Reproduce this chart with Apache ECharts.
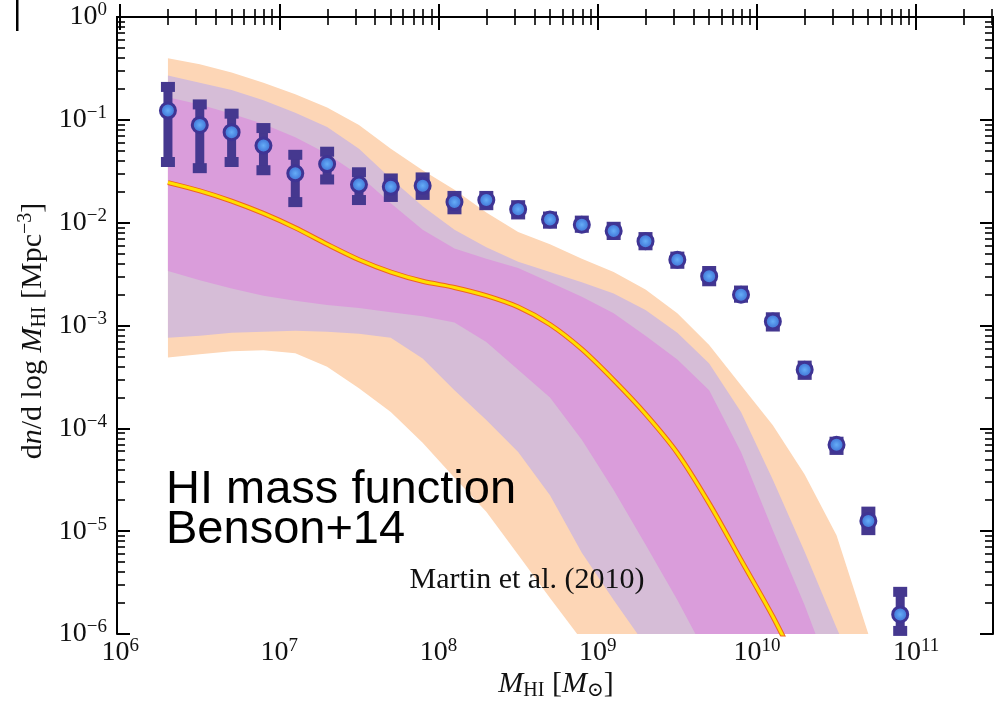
<!DOCTYPE html>
<html>
<head>
<meta charset="utf-8">
<script src="https://cdn.jsdelivr.net/npm/echarts@6/dist/echarts.min.js"></script>
<style>
  html, body { margin: 0; padding: 0; background: #ffffff; }
  #chart { width: 1002px; height: 701px; }
</style>
</head>
<body>
<div id="chart"></div>
<script>
// HI mass bins, log10(M_HI / Msun)
const logMass = [6.3, 6.5, 6.7, 6.9, 7.1, 7.3, 7.5, 7.7, 7.9, 8.1, 8.3, 8.5,
                 8.7, 8.9, 9.1, 9.3, 9.5, 9.7, 9.9, 10.1, 10.3, 10.5, 10.7, 10.9];

// ALFALFA HI mass function, Martin et al. (2010): log10 phi [Mpc^-3 dex^-1]
const logPhiObs   = [-0.91, -1.05, -1.12, -1.25, -1.52, -1.43, -1.63, -1.65, -1.64, -1.80, -1.78, -1.87,
                     -1.97, -2.02, -2.08, -2.18, -2.36, -2.52, -2.70, -2.96, -3.43, -4.16, -4.90, -5.81];
const logPhiObsHi = [-0.68, -0.85, -0.94, -1.08, -1.34, -1.31, -1.51, -1.57, -1.56, -1.74, -1.74, -1.83,
                     -1.94, -1.98, -2.04, -2.14, -2.33, -2.47, -2.66, -2.92, -3.39, -4.13, -4.81, -5.59];
const logPhiObsLo = [-1.41, -1.47, -1.41, -1.49, -1.80, -1.58, -1.78, -1.75, -1.73, -1.87, -1.83, -1.92,
                     -2.01, -2.05, -2.12, -2.22, -2.40, -2.57, -2.73, -3.01, -3.48, -4.21, -4.99, -5.97];

// Benson+14 model: median and nested percentile envelopes (log10 phi)
const logPhiMedian  = [-1.61, -1.69, -1.79, -1.91, -2.05, -2.21, -2.36, -2.48, -2.57, -2.63, -2.71,
                       -2.82, -2.99, -3.23, -3.53, -3.86, -4.24, -4.73, -5.28, -5.83, -6.45];
const logPhiOuterHi = [-0.40, -0.46, -0.54, -0.64, -0.75, -0.88, -1.05, -1.28, -1.49, -1.68, -1.90, -2.09,
                       -2.21, -2.35, -2.48, -2.65, -2.88, -3.19, -3.58, -3.97, -4.45, -5.04, -6.00, -6.84];
const logPhiOuterLo = [-3.31, -3.28, -3.25, -3.24, -3.27, -3.40, -3.61, -3.84, -4.14, -4.48, -4.81,
                       -5.23, -5.65, -6.06, -6.54];
const logPhiMidHi   = [-0.57, -0.64, -0.71, -0.81, -0.93, -1.07, -1.28, -1.57, -1.84, -2.07, -2.24, -2.38,
                       -2.48, -2.58, -2.69, -2.85, -3.07, -3.37, -3.84, -4.50, -5.20, -5.94, -6.64, -7.20];
const logPhiMidLo   = [-3.12, -3.10, -3.07, -3.06, -3.05, -3.06, -3.08, -3.12, -3.32, -3.63, -3.92,
                       -4.23, -4.65, -5.21, -5.67, -6.11, -6.64];
const logPhiInnerHi = [-0.78, -0.85, -0.94, -1.04, -1.17, -1.33, -1.54, -1.81, -2.07, -2.25, -2.35, -2.44,
                       -2.58, -2.72, -2.88, -3.10, -3.33, -3.63, -4.23, -4.99, -5.72, -6.54, -7.20, -7.80];
const logPhiInnerLo = [-2.47, -2.56, -2.64, -2.71, -2.76, -2.80, -2.83, -2.87, -2.91, -2.97, -3.16,
                       -3.43, -3.70, -4.11, -4.60, -5.13, -5.67, -6.25, -6.83];

// Tick decades (exponents) for both axes
const xDecades = [6, 7, 8, 9, 10, 11];
const yDecades = [-6, -5, -4, -3, -2, -1, 0];

// Minor ticks at k * 10^n, k = 2..9
function minorTicks(fromExp, toExp, lo, hi) {
  const out = [];
  for (let n = fromExp; n <= toExp; n++) {
    for (let k = 2; k <= 9; k++) {
      const v = n + Math.log10(k);
      if (v > lo && v < hi) out.push(v);
    }
  }
  return out;
}

const X_MIN = 5.98, X_MAX = 11.483, Y_MIN = -6, Y_MAX = 0;
const xMinor = minorTicks(5, 11, X_MIN, X_MAX);
const yMinor = minorTicks(-7, 0, Y_MIN, Y_MAX);

const SERIF = "'Liberation Serif', 'DejaVu Serif', serif";
const SANS = "'Liberation Sans', Arial, sans-serif";
const INK = '#111111';

const powRich = {
  b: { fontFamily: SERIF, fontSize: 28, lineHeight: 32, color: INK },
  s: { fontFamily: SERIF, fontSize: 19, lineHeight: 16, verticalAlign: 'top', color: INK }
};
function powLabel(v) {
  const e = Math.round(v);
  const txt = e < 0 ? '\u2212' + (-e) : String(e);
  return '{b|10}{s|' + txt + '}';
}

const frameLine = { show: true, lineStyle: { color: '#000', width: 2 } };
const majorTick = (vals) => ({ show: true, inside: true, length: 13, customValues: vals,
                               lineStyle: { color: '#000', width: 2 } });
const minorTick = (vals) => ({ show: true, inside: true, length: 8, customValues: vals,
                               lineStyle: { color: '#000', width: 1.6 } });

function xAxisDef(position, ticks, withLine, labels) {
  return {
    type: 'value', position, min: X_MIN, max: X_MAX, z: 10,
    axisLine: withLine ? frameLine : { show: false },
    axisTick: ticks,
    splitLine: { show: false },
    axisLabel: labels ? { show: true, customValues: xDecades, formatter: powLabel, rich: powRich, margin: 3 }
                      : { show: false }
  };
}
function yAxisDef(position, ticks, withLine, labels) {
  return {
    type: 'value', position, min: Y_MIN, max: Y_MAX, z: 10,
    axisLine: withLine ? frameLine : { show: false },
    axisTick: ticks,
    splitLine: { show: false },
    axisLabel: labels ? { show: true, customValues: yDecades, formatter: powLabel, rich: powRich, margin: 10 }
                      : { show: false }
  };
}

// Filled envelope between an upper and a lower boundary
function bandSeries(upper, lower, color) {
  return {
    type: 'custom', xAxisIndex: 0, yAxisIndex: 0, silent: true, z: 1,
    data: [[logMass[0], upper[0]]],
    renderItem: function (params, api) {
      const pts = [];
      for (let i = 0; i < upper.length; i++) pts.push(api.coord([logMass[i], upper[i]]));
      for (let i = lower.length - 1; i >= 0; i--) pts.push(api.coord([logMass[i], lower[i]]));
      const cs = params.coordSys;
      return {
        type: 'polygon',
        shape: { points: pts },
        style: { fill: color, stroke: null },
        clipPath: { type: 'rect', shape: { x: cs.x, y: cs.y, width: cs.width, height: cs.height } }
      };
    }
  };
}

const NAVY = '#45388f';
const errData = logMass.map((m, i) => [m, logPhiObsLo[i], logPhiObsHi[i]]);
const obsData = logMass.map((m, i) => [m, logPhiObs[i]]);
const medianData = logPhiMedian.map((v, i) => [logMass[i], v]);

const chart = echarts.init(document.getElementById('chart'), null, { renderer: 'canvas' });

chart.setOption({
  animation: false,
  backgroundColor: '#ffffff',
  grid: { left: 117, right: 9, top: 17, bottom: 67, containLabel: false },
  xAxis: [
    xAxisDef('bottom', majorTick(xDecades), true, true),
    xAxisDef('bottom', minorTick(xMinor), false, false),
    xAxisDef('top', majorTick(xDecades), true, false),
    xAxisDef('top', minorTick(xMinor), false, false)
  ],
  yAxis: [
    yAxisDef('left', majorTick(yDecades), true, true),
    yAxisDef('left', minorTick(yMinor), false, false),
    yAxisDef('right', majorTick(yDecades), true, false),
    yAxisDef('right', minorTick(yMinor), false, false)
  ],
  series: [
    bandSeries(logPhiOuterHi, logPhiOuterLo, '#fdd6b6'),
    bandSeries(logPhiMidHi, logPhiMidLo, '#d6bdd7'),
    bandSeries(logPhiInnerHi, logPhiInnerLo, '#da9ddb'),
    {
      type: 'line', xAxisIndex: 0, yAxisIndex: 0, z: 3, silent: true,
      data: medianData, showSymbol: false, smooth: 0.3, clip: true,
      lineStyle: { color: '#f0641e', width: 5 }
    },
    {
      type: 'line', xAxisIndex: 0, yAxisIndex: 0, z: 3, silent: true,
      data: medianData, showSymbol: false, smooth: 0.3, clip: true,
      lineStyle: { color: '#ffe000', width: 3 }
    },
    {
      type: 'custom', xAxisIndex: 0, yAxisIndex: 0, z: 12, silent: true,
      encode: { x: 0, y: [1, 2] },
      data: errData,
      renderItem: function (params, api) {
        const m = api.value(0);
        const pLo = api.coord([m, api.value(1)]);
        const pHi = api.coord([m, api.value(2)]);
        const st = { fill: NAVY };
        return {
          type: 'group',
          children: [
            { type: 'rect', shape: { x: pHi[0] - 4.5, y: pHi[1], width: 9, height: pLo[1] - pHi[1] }, style: st },
            { type: 'rect', shape: { x: pHi[0] - 7, y: pHi[1] - 5, width: 14, height: 10 }, style: st },
            { type: 'rect', shape: { x: pLo[0] - 7, y: pLo[1] - 5, width: 14, height: 10 }, style: st }
          ]
        };
      }
    },
    {
      type: 'scatter', xAxisIndex: 0, yAxisIndex: 0, z: 13, silent: true,
      data: obsData, symbol: 'circle', symbolSize: 15,
      itemStyle: {
        color: { type: 'radial', x: 0.5, y: 0.5, r: 0.5,
                 colorStops: [{ offset: 0, color: '#66adf7' }, { offset: 0.55, color: '#4a84e0' }, { offset: 1, color: '#4a7bd8' }] },
        borderColor: '#3f3494', borderWidth: 3, opacity: 1
      }
    }
  ],
  graphic: [
    { type: 'rect', z: 100, shape: { x: 16, y: 0, width: 2.5, height: 31 }, style: { fill: '#000' } },
    {
      type: 'text', z: 100, x: 33, y: 331, rotation: Math.PI / 2,
      style: {
        text: 'd{i|n}/d log {i|M}{sub|HI} [Mpc{sup|\u22123}]',
        fontFamily: SERIF, fontSize: 30, fill: INK, align: 'center', verticalAlign: 'middle',
        rich: {
          i: { fontFamily: SERIF, fontSize: 30, fontStyle: 'italic', lineHeight: 34, fill: INK },
          sub: { fontFamily: SERIF, fontSize: 20, lineHeight: 24, verticalAlign: 'bottom', fill: INK },
          sup: { fontFamily: SERIF, fontSize: 20, lineHeight: 18, verticalAlign: 'top', fill: INK }
        }
      }
    },
    {
      type: 'text', z: 100, x: 556, y: 684,
      style: {
        text: '{i|M}{sub|HI} [{i|M}{sub|\u2299}]',
        fontFamily: SERIF, fontSize: 30, fill: INK, align: 'center', verticalAlign: 'middle',
        rich: {
          i: { fontFamily: SERIF, fontSize: 30, fontStyle: 'italic', lineHeight: 34, fill: INK },
          sub: { fontFamily: SERIF, fontSize: 20, lineHeight: 24, verticalAlign: 'bottom', fill: INK }
        }
      }
    },
    {
      type: 'text', z: 100, x: 527, y: 580,
      style: { text: 'Martin et al. (2010)', fontFamily: SERIF, fontSize: 30, fill: INK,
               align: 'center', verticalAlign: 'middle' }
    },
    {
      type: 'text', z: 100, x: 166, y: 490,
      style: { text: 'HI mass function', fontFamily: SANS, fontSize: 47, fill: '#000',
               align: 'left', verticalAlign: 'middle' }
    },
    {
      type: 'text', z: 100, x: 166, y: 530,
      style: { text: 'Benson+14', fontFamily: SANS, fontSize: 47, fill: '#000',
               align: 'left', verticalAlign: 'middle' }
    }
  ]
});
</script>
</body>
</html>
